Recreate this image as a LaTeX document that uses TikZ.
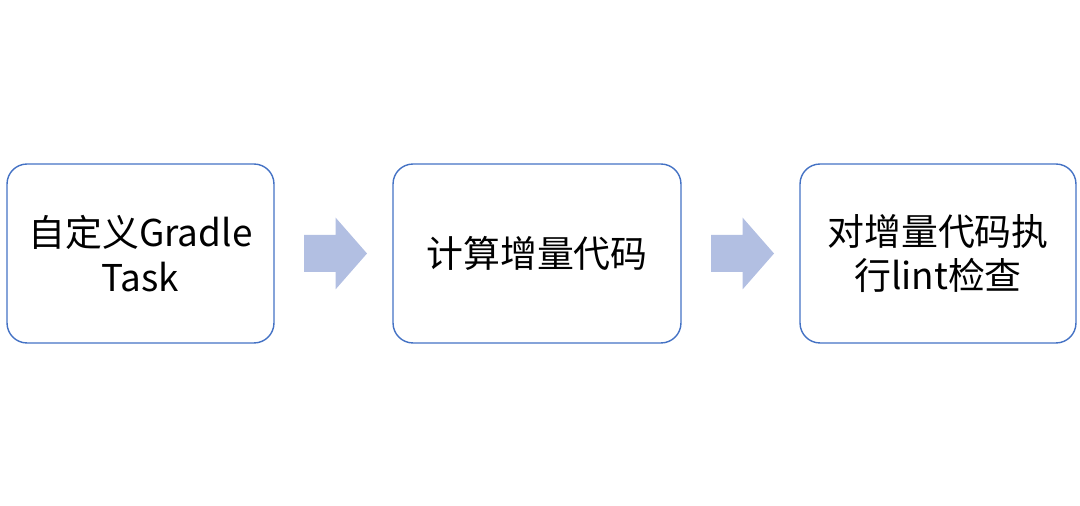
\documentclass[tikz,border=0pt]{standalone}
\usepackage{fontspec}
\newfontfamily\cjk{Noto Sans CJK SC}
\usetikzlibrary{positioning,calc}
\definecolor{boxline}{RGB}{68,114,196}
\definecolor{arrowfill}{RGB}{178,191,226}
\tikzset{
	stepbox/.style={draw=boxline, line width=0.8pt, rounded corners=0.4cm,
		minimum height=3.58cm, inner sep=0pt, align=center,
		font=\cjk\fontsize{21}{25.6}\selectfont},
}
% block arrow centred on a coordinate (px units, y downwards)
\newcommand\flowarrow[1]{%
	\fill[arrowfill] ($(#1)+(-31.5,-18.5)$) -- ($(#1)+(0,-18.5)$) -- ($(#1)+(0,-36)$)
		-- ($(#1)+(31.5,0)$) -- ($(#1)+(0,36)$) -- ($(#1)+(0,18.5)$)
		-- ($(#1)+(-31.5,18.5)$) -- cycle;}
\begin{document}
\begin{tikzpicture}[x=0.02cm,y=-0.02cm]
	\useasboundingbox (0,0) rectangle (1080,506);
	\node[stepbox, minimum width=5.34cm] (gradle) at (140.5,253.5) {自定义Gradle\\Task};
	\node[stepbox, minimum width=5.76cm] (diff) at (537,253.5) {计算增量代码};
	\node[stepbox, minimum width=5.52cm] (lint) at (938,253.5) {对增量代码执\\行lint检查};
	\path (335.5,253.5) coordinate (arrA)
		(742.5,253.5) coordinate (arrB);
	\flowarrow{arrA}
	\flowarrow{arrB}
\end{tikzpicture}
\end{document}
